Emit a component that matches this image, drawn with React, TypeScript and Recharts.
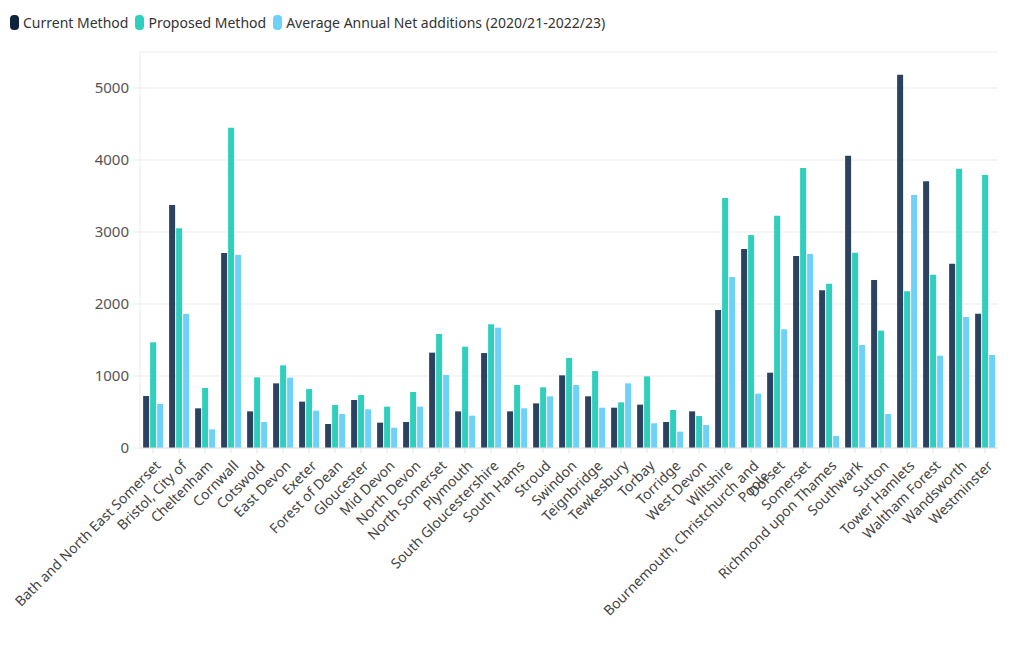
import { BarChart, Bar, XAxis, YAxis, CartesianGrid } from 'recharts';

const areas = [
  'Bath and North East Somerset', 'Bristol, City of', 'Cheltenham', 'Cornwall', 'Cotswold',
  'East Devon', 'Exeter', 'Forest of Dean', 'Gloucester', 'Mid Devon', 'North Devon',
  'North Somerset', 'Plymouth', 'South Gloucestershire', 'South Hams', 'Stroud', 'Swindon',
  'Teignbridge', 'Tewkesbury', 'Torbay', 'Torridge', 'West Devon', 'Wiltshire',
  'Bournemouth, Christchurch and Poole', 'Dorset', 'Somerset', 'Richmond upon Thames',
  'Southwark', 'Sutton', 'Tower Hamlets', 'Waltham Forest', 'Wandsworth', 'Westminster',
];

const currentMethod = [
  722, 3375, 551, 2708, 509, 898, 644, 333, 667, 352, 361, 1324, 509, 1319, 509, 620, 1009,
  718, 560, 602, 361, 509, 1917, 2764, 1046, 2667, 2190, 4060, 2333, 5185, 3704, 2560, 1866,
];

const proposedMethod = [
  1468, 3051, 833, 4449, 981, 1148, 819, 597, 736, 574, 778, 1583, 1407, 1718, 875, 843, 1250,
  1069, 634, 995, 528, 444, 3472, 2958, 3227, 3889, 2282, 2713, 1630, 2176, 2407, 3880, 3792,
];

const netAdditions = [
  611, 1861, 259, 2681, 361, 977, 519, 472, 537, 282, 574, 1014, 449, 1671, 551, 718, 875,
  560, 898, 343, 227, 319, 2375, 755, 1648, 2694, 167, 1431, 472, 3514, 1282, 1819, 1292,
];

const yTicks = [0, 1000, 2000, 3000, 4000, 5000];

const COLORS = { current: '#2d4160', proposed: '#2fcfbd', avg: '#6ed1f8' };
const FONT = '"Noto Sans", "Open Sans", sans-serif';

const data = areas.map((name, i) => ({
  name,
  current: currentMethod[i],
  proposed: proposedMethod[i],
  avg: netAdditions[i],
}));

const legendItems = [
  { label: 'Current Method', color: '#0f2240' },
  { label: 'Proposed Method', color: COLORS.proposed },
  { label: 'Average Annual Net additions (2020/21-2022/23)', color: COLORS.avg },
];

function TopLegend() {
  return (
    <div
      style={{
        position: 'absolute',
        top: 5,
        left: 2,
        display: 'flex',
        alignItems: 'center',
        fontFamily: FONT,
        fontSize: 14,
        color: '#333',
      }}
    >
      {legendItems.map(item => (
        <div key={item.label} style={{ display: 'flex', alignItems: 'center', marginRight: 7 }}>
          <span
            style={{
              display: 'inline-block',
              width: 9,
              height: 15,
              borderRadius: 4,
              background: item.color,
              marginRight: 4,
            }}
          />
          <span>{item.label}</span>
        </div>
      ))}
    </div>
  );
}

function AreaTick({ x, y, payload }: any) {
  const label: string = payload.value;
  // this one wraps onto a second line in the original
  const lines = label === 'Bournemouth, Christchurch and Poole'
    ? ['Bournemouth, Christchurch and', 'Poole']
    : [label];
  return (
    <g transform={`translate(${x + 5},${y + 8})`}>
      <text
        transform="rotate(-45)"
        textAnchor="end"
        fill="#444"
        fontSize={14}
        fontFamily={FONT}
      >
        {lines.map((line, i) => (
          <tspan key={i} x={0} dy={i === 0 ? 5 : 15}>{line}</tspan>
        ))}
      </text>
    </g>
  );
}

export default function App() {
  return (
    <div style={{ width: 1004, height: 634, position: 'relative' }}>
      <TopLegend />
      <BarChart
        width={1004}
        height={634}
        data={data}
        margin={{ top: 44, right: 14, left: 72, bottom: 8 }}
        barCategoryGap="12%"
        barGap={1}
      >
        <CartesianGrid vertical={false} stroke="#ebebeb" />
        <XAxis
          dataKey="name"
          interval={0}
          height={186}
          tick={<AreaTick />}
          tickLine={{ stroke: '#e3e3e3' }}
          tickSize={5}
          axisLine={{ stroke: '#e3e3e3' }}
        />
        <YAxis
          domain={[0, 5500]}
          ticks={yTicks}
          width={60}
          tickLine={{ stroke: '#ebebeb' }}
          tickSize={7}
          tickMargin={4}
          axisLine={{ stroke: '#eaeaea' }}
          tick={{ fill: '#555', fontSize: 15, fontFamily: FONT }}
        />
        <Bar dataKey="current" name="Current Method" fill={COLORS.current} isAnimationActive={false} />
        <Bar dataKey="proposed" name="Proposed Method" fill={COLORS.proposed} isAnimationActive={false} />
        <Bar dataKey="avg" name="Average Annual Net additions (2020/21-2022/23)" fill={COLORS.avg} isAnimationActive={false} />
      </BarChart>
    </div>
  );
}
